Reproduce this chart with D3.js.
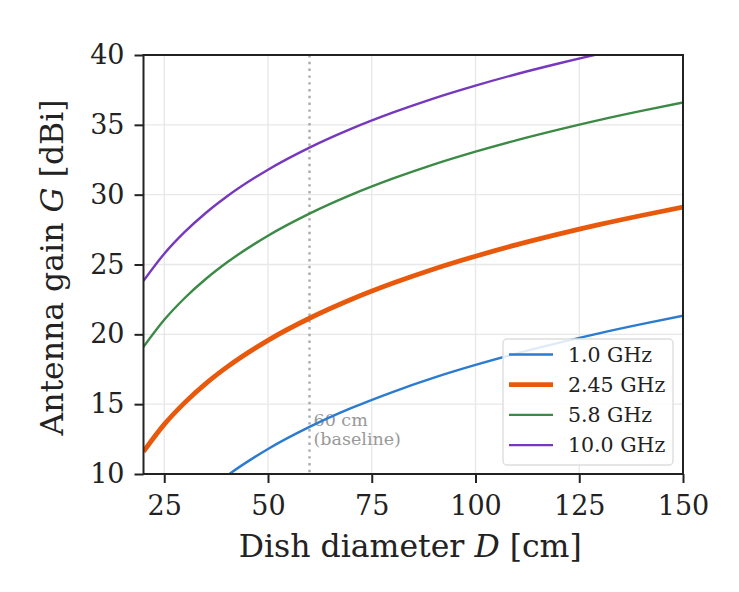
<!DOCTYPE html>
<html>
  <head>
    <title>Antenna gain vs dish diameter</title>
    <script src="https://d3js.org/d3.v7.min.js"></script>
    <style>
      html, body {
        margin:0;
        padding:0;
        background:#fff;
      }
      svg text { font-family: "DejaVu Serif", serif; fill:#222; }
    </style>
  </head>
  <body>
    <svg id="chart" width="739" height="592"></svg>
    <script>
      var diameters = [20, 25, 30, 35, 40, 50, 60, 70, 80, 90, 100, 110, 120, 130, 140, 150];

      var gain1 = [3.83, 5.77, 7.35, 8.69, 9.85, 11.79, 13.37, 14.71, 15.87, 16.90, 17.81, 18.64, 19.39, 20.09, 20.73, 21.33];
      var gain245 = [11.61, 13.55, 15.13, 16.47, 17.63, 19.57, 21.15, 22.49, 23.65, 24.68, 25.59, 26.42, 27.17, 27.87, 28.51, 29.11];
      var gain58 = [19.10, 21.04, 22.62, 23.96, 25.12, 27.06, 28.64, 29.98, 31.14, 32.17, 33.08, 33.91, 34.66, 35.36, 36.00, 36.60];
      var gain10 = [23.83, 25.77, 27.35, 28.69, 29.85, 31.79, 33.37, 34.71, 35.87, 36.90, 37.81, 38.64, 39.39, 40.09, 40.73, 41.33];

      var seriesNames = ["1.0 GHz", "2.45 GHz", "5.8 GHz", "10.0 GHz"];
      var seriesColors = ["#2b7bd0", "#e8590c", "#3b8a46", "#7638bd"];
      var seriesWidths = [2.4, 4.8, 2.4, 2.4];

      var xTicks = [25, 50, 75, 100, 125, 150];
      var yTicks = [10, 15, 20, 25, 30, 35, 40];
      var baselineD = 60;

      var svg = d3.select("#chart");
      // plot box (note: "top" is a reserved global in browsers)
      var pL = 143.5, pR = 683, pT = 55, pB = 474;

      var x = d3.scaleLinear().domain([20, 150]).range([pL, pR]);
      var y = d3.scaleLinear().domain([10, 40]).range([pB, pT]);

      svg.append("clipPath").attr("id", "clip")
        .append("rect")
        .attr("x", pL).attr("y", pT)
        .attr("width", pR - pL).attr("height", pB - pT);

      // grid
      var grid = svg.append("g");
      grid.selectAll("line.gx").data(xTicks).enter().append("line")
        .attr("x1", d => x(d)).attr("x2", d => x(d))
        .attr("y1", pT).attr("y2", pB)
        .attr("stroke", "#e8e8e8").attr("stroke-width", 1.4);
      grid.selectAll("line.gy").data(yTicks).enter().append("line")
        .attr("x1", pL).attr("x2", pR)
        .attr("y1", d => y(d)).attr("y2", d => y(d))
        .attr("stroke", "#e8e8e8").attr("stroke-width", 1.4);

      // baseline marker
      svg.append("line")
        .attr("x1", x(baselineD)).attr("x2", x(baselineD))
        .attr("y1", pT).attr("y2", pB)
        .attr("stroke", "#aaaaaa").attr("stroke-width", 2.4)
        .attr("stroke-dasharray", "2.4,4.4");

      var note = svg.append("text")
        .attr("x", x(baselineD) + 4).attr("y", 426)
        .style("font-size", "17.5px").style("fill", "#999");
      note.append("tspan").text("60 cm");
      note.append("tspan").attr("x", x(baselineD) + 4).attr("dy", 18.5).text("(baseline)");

      var allSeries = [gain1, gain245, gain58, gain10];
      var line = d3.line()
        .x((d, i) => x(diameters[i]))
        .y(d => y(d))
        .curve(d3.curveMonotoneX);

      var plot = svg.append("g").attr("clip-path", "url(#clip)");
      allSeries.forEach(function(s, k) {
        plot.append("path")
          .attr("d", line(s))
          .attr("fill", "none")
          .attr("stroke", seriesColors[k])
          .attr("stroke-width", seriesWidths[k]);
      });

      // axes
      var xAxis = svg.append("g").attr("transform", "translate(0," + pB + ")")
        .call(d3.axisBottom(x).tickValues(xTicks).tickSize(9).tickPadding(13));
      var yAxis = svg.append("g").attr("transform", "translate(" + pL + ",0)")
        .call(d3.axisLeft(y).tickValues(yTicks).tickSize(9).tickPadding(10));
      [xAxis, yAxis].forEach(function(a) {
        a.select(".domain").remove();
        a.selectAll("line").attr("stroke", "#222").attr("stroke-width", 2);
        a.selectAll("text").style("font-family", "DejaVu Serif").style("font-size", "27px").attr("fill", "#222");
      });

      svg.append("rect")
        .attr("x", pL).attr("y", pT)
        .attr("width", pR - pL).attr("height", pB - pT)
        .attr("fill", "none").attr("stroke", "#222").attr("stroke-width", 2);

      // axis labels
      var xl = svg.append("text")
        .attr("x", (pL + pR) / 2 - 3).attr("y", 557)
        .attr("text-anchor", "middle").style("font-size", "31.5px");
      xl.append("tspan").text("Dish diameter ");
      xl.append("tspan").style("font-style", "italic").text("D");
      xl.append("tspan").text(" [cm]");

      var yl = svg.append("text")
        .attr("transform", "translate(63," + ((pT + pB) / 2 + 3) + ") rotate(-90)")
        .attr("text-anchor", "middle").style("font-size", "31.5px");
      yl.append("tspan").text("Antenna gain ");
      yl.append("tspan").style("font-style", "italic").text("G");
      yl.append("tspan").text(" [dBi]");

      // legend
      var lg = svg.append("g");
      lg.append("rect")
        .attr("x", 503).attr("y", 339).attr("width", 170).attr("height", 126)
        .attr("rx", 4).attr("fill", "rgba(255,255,255,0.85)")
        .attr("stroke", "#dddddd").attr("stroke-width", 1.4);
      seriesNames.forEach(function(n, k) {
        var cy = 354.5 + k * 30.2;
        lg.append("line")
          .attr("x1", 509).attr("x2", 553).attr("y1", cy).attr("y2", cy)
          .attr("stroke", seriesColors[k]).attr("stroke-width", seriesWidths[k]);
        lg.append("text")
          .attr("x", 568).attr("y", cy + 7)
          .style("font-size", "20.5px").text(n);
      });
    </script>
  </body>
</html>
